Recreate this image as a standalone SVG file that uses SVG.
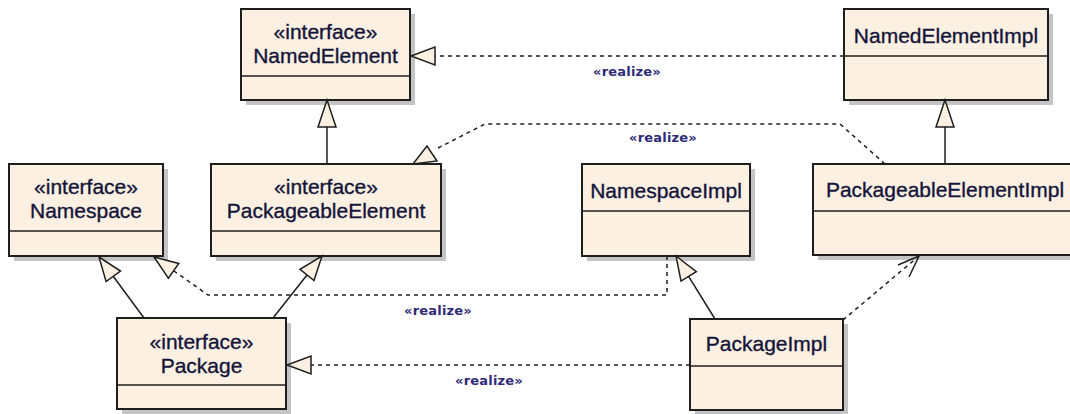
<svg xmlns="http://www.w3.org/2000/svg" width="1070" height="414" viewBox="0 0 1070 414">
<defs>
<style>
.sh{fill:#c4c4c4;stroke:none}
.bx{fill:#fbf0e1;stroke:#1e1e1e;stroke-width:2}
.sep{stroke:#1e1e1e;stroke-width:1.6}
.t{font-family:"Liberation Sans",Arial,sans-serif;font-size:21px;fill:#14143a;stroke:#14143a;stroke-width:0.35;text-anchor:middle}
.lbl{font-family:"DejaVu Sans",Verdana,sans-serif;font-size:13px;font-weight:bold;fill:#2e2a78;text-anchor:middle;letter-spacing:0.2px}
.solid{fill:none;stroke:#1e1e1e;stroke-width:1.5}
.dash{fill:none;stroke:#1e1e1e;stroke-width:1.5;stroke-dasharray:4 4}
.tri{fill:#fbf0e1;stroke:#1e1e1e;stroke-width:1.5;stroke-linejoin:miter}
.open{fill:none;stroke:#1e1e1e;stroke-width:1.5}
</style>
</defs>
<rect width="1070" height="414" fill="#ffffff"/>

<g id="NamedElement">
<rect class="sh" x="246" y="14" width="169" height="91"/>
<rect class="bx" x="241" y="9" width="169" height="91"/>
<line class="sep" x1="241" y1="76" x2="410" y2="76"/>
<text class="t" x="325.5" y="39">«interface»</text>
<text class="t" x="325.5" y="63">NamedElement</text>
</g>

<g id="NamedElementImpl">
<rect class="sh" x="849" y="14" width="204" height="91"/>
<rect class="bx" x="844" y="9" width="204" height="91"/>
<line class="sep" x1="844" y1="56" x2="1048" y2="56"/>
<text class="t" x="946" y="43">NamedElementImpl</text>
</g>

<g id="Namespace">
<rect class="sh" x="14" y="169" width="154" height="92"/>
<rect class="bx" x="9" y="164" width="154" height="92"/>
<line class="sep" x1="9" y1="231" x2="163" y2="231"/>
<text class="t" x="86" y="194">«interface»</text>
<text class="t" x="86" y="218">Namespace</text>
</g>

<g id="PackageableElement">
<rect class="sh" x="216" y="169" width="230" height="92"/>
<rect class="bx" x="211" y="164" width="230" height="92"/>
<line class="sep" x1="211" y1="231" x2="441" y2="231"/>
<text class="t" x="326" y="194">«interface»</text>
<text class="t" x="326" y="218">PackageableElement</text>
</g>

<g id="NamespaceImpl">
<rect class="sh" x="587" y="169" width="168" height="92"/>
<rect class="bx" x="582" y="164" width="168" height="92"/>
<line class="sep" x1="582" y1="211" x2="750" y2="211"/>
<text class="t" x="666" y="198">NamespaceImpl</text>
</g>

<g id="PackageableElementImpl">
<rect class="sh" x="818" y="169" width="262" height="91"/>
<rect class="bx" x="813" y="164" width="262" height="91"/>
<line class="sep" x1="813" y1="211" x2="1075" y2="211"/>
<text class="t" x="945" y="197">PackageableElementImpl</text>
</g>

<g id="Package">
<rect class="sh" x="122" y="323" width="169" height="91"/>
<rect class="bx" x="117" y="318" width="169" height="91"/>
<line class="sep" x1="117" y1="385" x2="286" y2="385"/>
<text class="t" x="201.5" y="349">«interface»</text>
<text class="t" x="201.5" y="373">Package</text>
</g>

<g id="PackageImpl">
<rect class="sh" x="695" y="324" width="153" height="91"/>
<rect class="bx" x="690" y="319" width="153" height="91"/>
<line class="sep" x1="690" y1="366" x2="843" y2="366"/>
<text class="t" x="766.5" y="351">PackageImpl</text>
</g>

<g id="connectors">
<line class="dash" x1="844" y1="56" x2="435" y2="56"/>
<polygon class="tri" points="411,56 435,47 435,65"/>
<text class="lbl" x="627" y="76">«realize»</text>

<line class="solid" x1="945" y1="164" x2="945" y2="127"/>
<polygon class="tri" points="945,100 936,127 954,127"/>

<line class="solid" x1="327" y1="164" x2="327" y2="127"/>
<polygon class="tri" points="327,100 318,127 336,127"/>

<polyline class="dash" points="885,164 840,124 485,124 438,148"/>
<polygon class="tri" points="427,146 413,164 437,161"/>
<text class="lbl" x="663" y="142">«realize»</text>

<polyline class="dash" points="667,256 667,295 208,295 174,271"/>
<polygon class="tri" points="154,257 178.8,263.4 168.4,278.2"/>
<text class="lbl" x="438" y="315">«realize»</text>

<line class="solid" x1="144" y1="318" x2="113" y2="276"/>
<polygon class="tri" points="99,257 120.5,271 106.1,281.6"/>

<line class="solid" x1="273" y1="318" x2="307" y2="275"/>
<polygon class="tri" points="322,256 314,280.6 300,269.4"/>

<line class="solid" x1="715" y1="319" x2="688.6" y2="276.4"/>
<polygon class="tri" points="676,256 696.3,271.7 681,281.1"/>

<line class="dash" x1="690" y1="365" x2="311" y2="365"/>
<polygon class="tri" points="287,365 311,356 311,374"/>
<text class="lbl" x="489" y="385">«realize»</text>

<line class="dash" x1="843" y1="320" x2="919" y2="256"/>
<polyline class="open" points="898,265 919,256 909,277"/>
</g>
</svg>
